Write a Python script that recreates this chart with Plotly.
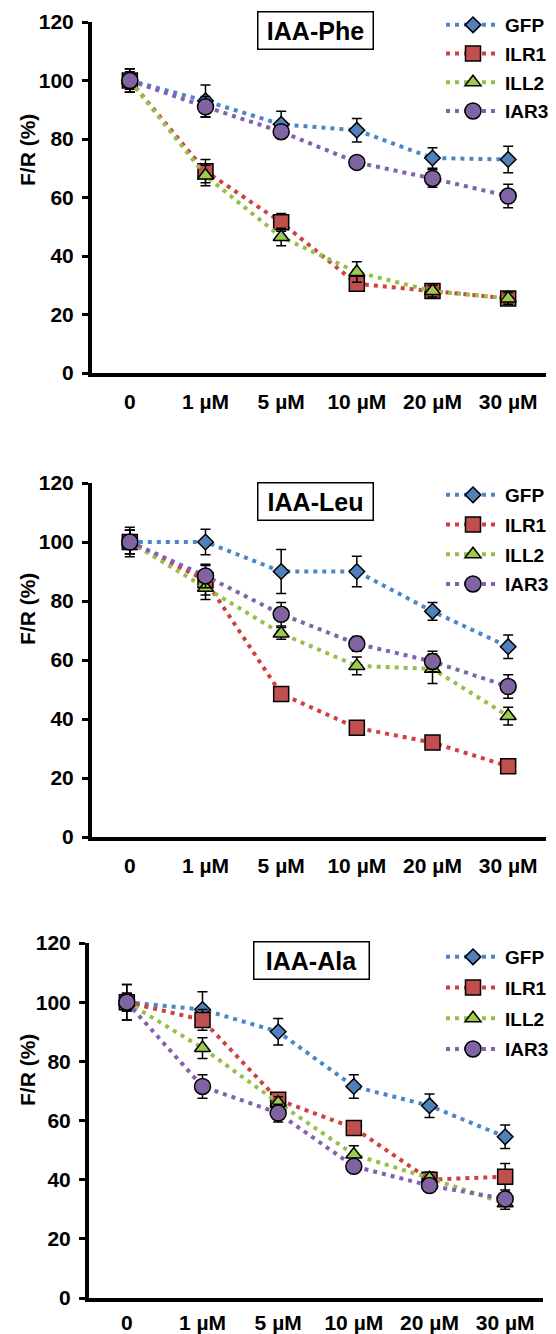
import plotly.graph_objects as go

categories = ["0", "1 µM", "5 µM", "10 µM", "20 µM", "30 µM"]
series_names = ["GFP", "ILR1", "ILL2", "IAR3"]
panel_titles = ["IAA-Phe", "IAA-Leu", "IAA-Ala"]

# IAA-Phe
phe_gfp = [100, 93, 85, 83, 73.5, 73]
phe_gfp_err = [4, 5.5, 4.5, 4, 3.5, 4.5]
phe_ilr1 = [100, 69, 51.5, 30.5, 28, 25.5]
phe_ilr1_err = [4, 4, 3, 2, 2, 2]
phe_ill2 = [100, 67.5, 46.5, 34.5, 28, 25.5]
phe_ill2_err = [3, 3.5, 3, 3.5, 2, 2]
phe_iar3 = [100, 91, 82.5, 72, 66.5, 60.5]
phe_iar3_err = [4, 3.5, 2, 2, 3, 4]

# IAA-Leu
leu_gfp = [100, 100, 90, 90, 76.5, 64.5]
leu_gfp_err = [5, 4.3, 7.5, 5.2, 3, 4]
leu_ilr1 = [100, 87, 48.5, 37, 32, 24]
leu_ilr1_err = [4, 5, 2, 2, 2, 2]
leu_ill2 = [100, 84.5, 69, 58, 57, 41]
leu_ill2_err = [4, 4, 2, 3, 5, 3]
leu_iar3 = [100, 88.5, 75.5, 65.5, 59.5, 51]
leu_iar3_err = [4, 4, 4, 2.5, 3.5, 4]

# IAA-Ala
ala_gfp = [100, 97.5, 90, 71.5, 65, 54.5]
ala_gfp_err = [6, 6, 4.5, 4, 4, 4]
ala_ilr1 = [100, 94, 67, 57.5, 40, 41]
ala_ilr1_err = [3, 3.5, 2, 2, 2, 4.5]
ala_ill2 = [100, 84.5, 66, 48.5, 40.5, 32]
ala_ill2_err = [3, 3.5, 2, 3, 2, 2]
ala_iar3 = [100, 71.5, 62.5, 44.5, 38, 33.5]
ala_iar3_err = [6, 4, 3, 2, 2, 2]

y_ticks = [0, 20, 40, 60, 80, 100, 120]

panels = [
    [(phe_gfp, phe_gfp_err), (phe_ilr1, phe_ilr1_err), (phe_ill2, phe_ill2_err), (phe_iar3, phe_iar3_err)],
    [(leu_gfp, leu_gfp_err), (leu_ilr1, leu_ilr1_err), (leu_ill2, leu_ill2_err), (leu_iar3, leu_iar3_err)],
    [(ala_gfp, ala_gfp_err), (ala_ilr1, ala_ilr1_err), (ala_ill2, ala_ill2_err), (ala_iar3, ala_iar3_err)],
]

line_colors = ["#4a86c8", "#d0403c", "#94c04a", "#8262b0"]
fill_colors = ["#4f81bd", "#c0504d", "#9bcb4f", "#8064a2"]
symbols = ["diamond", "square", "triangle-up", "circle"]
sizes = [12, 15, 14, 16]

W, H = 556, 1334
FONT = "Liberation Sans, Arial, sans-serif"

# pixel geometry of each panel: (x_left, x_right, y_top, y_bottom)
geom = [(92, 546, 22, 373), (92, 546, 483, 837), (89, 543, 943, 1298)]
title_pos = [(315, 31), (315, 501), (311, 960)]
ytitle_pos = [(27, 150), (27, 609), (27, 1070)]
legend_pos = [(441, 6), (441, 476), (441, 938)]
legend_gaps = [1, 2, 3]
xlabel_standoff = [7, 7, 3]

fig = go.Figure()
layout = dict(
    width=W, height=H, margin=dict(l=0, r=0, t=0, b=0),
    paper_bgcolor="white", plot_bgcolor="white", showlegend=True,
    font=dict(family=FONT, color="black"),
)
annotations = []
for p, data in enumerate(panels):
    ax = "" if p == 0 else str(p + 1)
    lg = "legend" if p == 0 else "legend%d" % (p + 1)
    for s, (vals, errs) in enumerate(data):
        fig.add_trace(go.Scatter(
            x=categories, y=vals, name=series_names[s],
            mode="lines+markers", legendgroup="p%d_s%d" % (p, s),
            xaxis="x" + ax, yaxis="y" + ax, legend=lg,
            line=dict(color=line_colors[s], width=4, dash="4px,5px"),
            marker=dict(symbol=symbols[s], size=sizes[s], color=fill_colors[s],
                        line=dict(color="black", width=1.5)),
            error_y=dict(type="data", array=errs, visible=True, color="black",
                         thickness=1.5, width=5),
        ))
    xl, xr, yt, yb = geom[p]
    layout["xaxis" + ax] = dict(
        domain=[xl / W, xr / W], anchor="y" + ax, type="category",
        range=[-0.5, 5.5], showline=True, linewidth=4, linecolor="black",
        showgrid=False, zeroline=False, ticks="", ticklabelstandoff=xlabel_standoff[p],
        tickfont=dict(size=21, family=FONT, weight="bold", color="black"),
        automargin=False, fixedrange=True,
    )
    layout["yaxis" + ax] = dict(
        domain=[1 - yb / H, 1 - yt / H], anchor="x" + ax, range=[0, 120],
        tickmode="array", tickvals=y_ticks, showline=True, linewidth=4,
        linecolor="black", showgrid=False, zeroline=False, ticks="outside",
        ticklen=6, tickwidth=3, tickcolor="black", ticklabelstandoff=4,
        tickfont=dict(size=21, family=FONT, weight="bold", color="black"),
        automargin=False, fixedrange=True,
    )
    tx, ty = title_pos[p]
    annotations.append(dict(
        text=panel_titles[p], x=tx / W, y=1 - ty / H, xref="paper", yref="paper",
        showarrow=False, xanchor="center", yanchor="middle",
        width=108, height=30, align="center", valign="middle",
        font=dict(size=25, family=FONT, weight="bold", color="black"),
        bordercolor="black", borderwidth=1.5, borderpad=3, bgcolor="white",
    ))
    yx, yy = ytitle_pos[p]
    annotations.append(dict(
        text="F/R (%)", x=yx / W, y=1 - yy / H, xref="paper", yref="paper",
        showarrow=False, xanchor="center", yanchor="middle", textangle=-90,
        font=dict(size=21, family=FONT, weight="bold", color="black"),
    ))
    lx, ly = legend_pos[p]
    layout[lg] = dict(
        x=lx / W, y=1 - ly / H, xanchor="left", yanchor="top",
        bgcolor="rgba(0,0,0,0)", borderwidth=0, tracegroupgap=legend_gaps[p],
        itemwidth=54,
        font=dict(size=19, family=FONT, weight="bold", color="black"),
    )

layout["annotations"] = annotations
fig.update_layout(**layout)
fig.write_html("out.html", config={"displayModeBar": False},
               post_script="document.body.style.margin='0px';")
